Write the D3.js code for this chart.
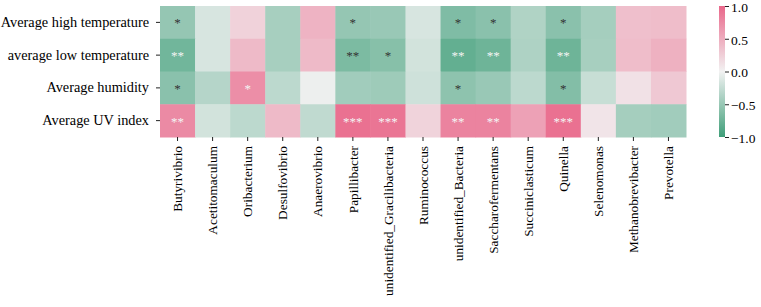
<!DOCTYPE html>
<html>
<head>
<meta charset="utf-8">
<script src="https://cdn.jsdelivr.net/npm/d3@7"></script>
<style>
  body { margin: 0; background: #fff; }
  svg { display: block; font-family: "Liberation Serif", "Times New Roman", serif; }
</style>
</head>
<body>
<div id="heatmap"></div>
<script>
// rows (environment factors) and columns (genera)
const factors = ["Average high temperature", "average low temperature", "Average humidity", "Average UV index"];
const genera = ["Butyrivibrio", "Acetitomaculum", "Oribacterium", "Desulfovibrio", "Anaerovibrio",
  "Papillibacter", "unidentified_Gracilibacteria", "Ruminococcus", "unidentified_Bacteria",
  "Saccharofermentans", "Succiniclasticum", "Quinella", "Selenomonas", "Methanobrevibacter", "Prevotella"];

// correlation values, one array per factor
const highTemp = [-0.52, -0.15, 0.23, -0.42, 0.45, -0.52, -0.5, -0.15, -0.64, -0.58, -0.37, -0.58, -0.43, 0.37, 0.38];
const lowTemp = [-0.72, -0.15, 0.4, -0.42, 0.4, -0.66, -0.6, -0.18, -0.8, -0.74, -0.38, -0.74, -0.42, 0.38, 0.47];
const humidity = [-0.58, -0.34, 0.72, -0.3, -0.03, -0.45, -0.47, -0.2, -0.56, -0.5, -0.3, -0.62, -0.24, 0.12, 0.3];
const uvIndex = [0.75, -0.18, -0.3, 0.4, -0.28, 0.93, 0.9, 0.22, 0.8, 0.8, 0.58, 0.93, 0.1, -0.43, -0.45];

// significance marks
const highTempSig = ["*", "", "", "", "", "*", "", "", "*", "*", "", "*", "", "", ""];
const lowTempSig = ["**", "", "", "", "", "**", "*", "", "**", "**", "", "**", "", "", ""];
const humiditySig = ["*", "", "*", "", "", "", "", "", "*", "", "", "*", "", "", ""];
const uvIndexSig = ["**", "", "", "", "", "***", "***", "", "**", "**", "", "***", "", "", ""];

const colorbarTicks = [1.0, 0.5, 0.0, -0.5, -1.0];

const drawHeatmap = () => {

  /*******************************/
  /*    Declare the constants    */
  /*******************************/
  const width = 761;
  const height = 307;
  const margin = {top: 6, left: 160};
  const innerWidth = 526;
  const innerHeight = 131;

  const values = [highTemp, lowTemp, humidity, uvIndex];
  const marks = [highTempSig, lowTempSig, humiditySig, uvIndexSig];
  const cells = [];
  factors.forEach((f, i) => {
    genera.forEach((g, j) => {
      cells.push({factor: f, genus: g, value: values[i][j], mark: marks[i][j]});
    });
  });

  /*******************************/
  /*    Append the containers    */
  /*******************************/
  const svg = d3.select("#heatmap")
    .append("svg")
      .attr("width", width)
      .attr("height", height);

  const innerChart = svg
    .append("g")
      .attr("transform", `translate(${margin.left}, ${margin.top})`);

  /****************************/
  /*    Declare the scales    */
  /****************************/
  const xScale = d3.scaleBand()
    .domain(genera)
    .range([0, innerWidth]);
  const yScale = d3.scaleBand()
    .domain(factors)
    .range([0, innerHeight]);
  const colorScale = d3.scaleLinear()
    .domain([-1, 0, 1])
    .range(["#3f9e79", "#f2f2f2", "#e9678a"])
    .clamp(true);

  // pick dark or light text like seaborn does
  const textColor = v => {
    const c = d3.rgb(colorScale(v));
    const lin = x => { x /= 255; return x <= 0.03928 ? x / 12.92 : Math.pow((x + 0.055) / 1.055, 2.4); };
    const lum = 0.2126 * lin(c.r) + 0.7152 * lin(c.g) + 0.0722 * lin(c.b);
    return lum > 0.408 ? "#333333" : "#f4f4f4";
  };

  /**************************/
  /*      Add the cells     */
  /**************************/
  innerChart
    .selectAll(".cell")
    .data(cells)
    .join("rect")
      .attr("class", "cell")
      .attr("x", d => xScale(d.genus))
      .attr("y", d => yScale(d.factor))
      .attr("width", xScale.bandwidth() + 0.5)
      .attr("height", yScale.bandwidth() + 0.5)
      .attr("fill", d => colorScale(d.value));

  innerChart
    .selectAll(".mark")
    .data(cells.filter(d => d.mark !== ""))
    .join("text")
      .attr("class", "mark")
      .attr("x", d => xScale(d.genus) + xScale.bandwidth() / 2)
      .attr("y", d => yScale(d.factor) + yScale.bandwidth() / 2 + 5)
      .attr("text-anchor", "middle")
      .attr("font-size", 13)
      .attr("fill", d => textColor(d.value))
      .text(d => d.mark);

  /**************************/
  /*      Add the axes      */
  /**************************/
  const leftAxis = d3.axisLeft(yScale)
    .tickSize(4)
    .tickPadding(7);
  const leftG = innerChart
    .append("g")
      .call(leftAxis);
  leftG.select(".domain").remove();
  leftG.selectAll("text")
    .attr("font-family", "Liberation Serif, serif")
    .attr("font-size", 14.3)
    .attr("fill", "#000");
  leftG.selectAll("line").attr("stroke", "#222");

  const bottomAxis = d3.axisBottom(xScale)
    .tickSize(4)
    .tickPadding(3);
  const bottomG = innerChart
    .append("g")
      .attr("transform", `translate(0, ${innerHeight})`)
      .call(bottomAxis);
  bottomG.select(".domain").remove();
  bottomG.selectAll("line").attr("stroke", "#222");
  bottomG.selectAll("text")
    .attr("font-family", "Liberation Serif, serif")
    .attr("font-size", 13.3)
    .attr("fill", "#000")
    .attr("text-anchor", "end")
    .attr("dy", "0.35em")
    .attr("transform", "translate(0, 9) rotate(-90)")
    .attr("x", 0)
    .attr("y", 0);

  /**************************/
  /*     Add the colorbar   */
  /**************************/
  const cbX = 719;
  const cbWidth = 6;
  const cbScale = d3.scaleLinear()
    .domain([-1, 1])
    .range([margin.top + innerHeight, margin.top]);

  const grad = svg.append("defs")
    .append("linearGradient")
      .attr("id", "cb-grad")
      .attr("x1", 0).attr("x2", 0)
      .attr("y1", 1).attr("y2", 0);
  d3.range(0, 1.0001, 0.1).forEach(t => {
    grad.append("stop")
      .attr("offset", t)
      .attr("stop-color", colorScale(-1 + 2 * t));
  });

  svg.append("rect")
    .attr("x", cbX)
    .attr("y", cbScale(1))
    .attr("width", cbWidth)
    .attr("height", cbScale(-1) - cbScale(1))
    .attr("fill", "url(#cb-grad)");

  const cbAxis = d3.axisRight(cbScale)
    .tickValues(colorbarTicks)
    .tickFormat(d3.format(".1f"))
    .tickSize(4)
    .tickPadding(2);
  const cbG = svg.append("g")
    .attr("transform", `translate(${cbX + cbWidth}, 0)`)
    .call(cbAxis);
  cbG.select(".domain").remove();
  cbG.selectAll("line").attr("stroke", "#222");
  cbG.selectAll("text")
    .attr("font-family", "Liberation Serif, serif")
    .attr("font-size", 13.5)
    .attr("dy", "0.4em")
    .attr("fill", "#000");
};

drawHeatmap();
</script>
</body>
</html>
